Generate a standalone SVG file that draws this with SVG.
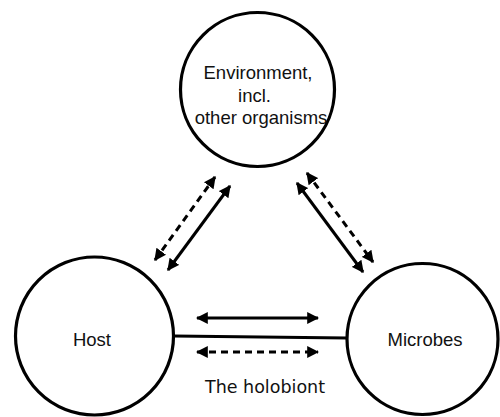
<svg xmlns="http://www.w3.org/2000/svg" width="500" height="417" viewBox="0 0 500 417">
<defs>
<marker id="ah" viewBox="0 0 10 10" refX="9" refY="5" markerWidth="4" markerHeight="4" orient="auto-start-reverse" markerUnits="strokeWidth">
<path d="M0,0 L10,5 L0,10 z" fill="#000"/>
</marker>
</defs>
<style>
.node{fill:#fff;stroke:#000;stroke-width:3.2}
.lbl{font-family:"Liberation Sans",Arial,sans-serif;font-size:18.5px;fill:#111;text-anchor:middle}
.c{fill:none;stroke:#000;stroke-width:3}
.d{stroke-dasharray:7,5}
.arr{marker-start:url(#ah);marker-end:url(#ah)}
</style>
<g id="connectors">
<line class="c" x1="174" y1="336" x2="347" y2="338"/>
<line class="c arr" x1="197" y1="318" x2="318" y2="318"/>
<line class="c d arr" x1="197" y1="352" x2="318" y2="352"/>
<line class="c d arr" x1="155" y1="260" x2="215" y2="177"/>
<line class="c arr" x1="168" y1="270" x2="230" y2="186"/>
<line class="c d arr" x1="307" y1="173" x2="373" y2="262"/>
<line class="c arr" x1="297" y1="183" x2="363" y2="272"/>
</g>
<g id="environment">
<circle class="node" cx="257.5" cy="89.5" r="77"/>
<text class="lbl" x="258" y="79">Environment,</text>
<text class="lbl" x="254.5" y="102">incl.</text>
<text class="lbl" x="261" y="124">other organisms</text>
</g>
<g id="host">
<circle class="node" cx="94.5" cy="336" r="79"/>
<text class="lbl" x="92" y="346">Host</text>
</g>
<g id="microbes">
<circle class="node" cx="422.5" cy="339" r="75.5"/>
<text class="lbl" x="425" y="346">Microbes</text>
</g>
<g id="caption">
<text x="265" y="393" style="font-family:'DejaVu Sans',sans-serif;font-size:17.5px;fill:#111;text-anchor:middle">The holobiont</text>
</g>
</svg>
